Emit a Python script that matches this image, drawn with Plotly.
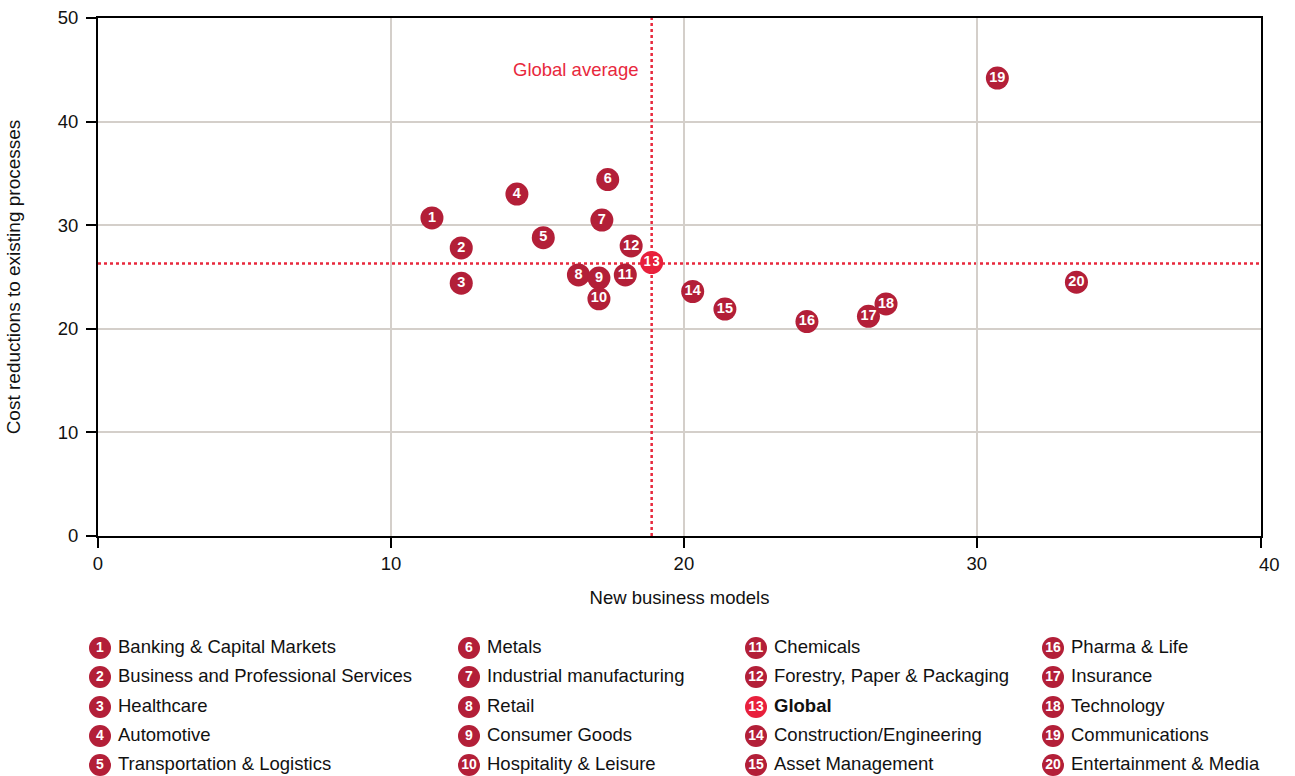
import plotly.graph_objects as go

# ---------------- data ----------------
NUMBERS = list(range(1, 21))
INDUSTRIES = [
    "Banking & Capital Markets", "Business and Professional Services", "Healthcare",
    "Automotive", "Transportation & Logistics", "Metals", "Industrial manufacturing",
    "Retail", "Consumer Goods", "Hospitality & Leisure", "Chemicals",
    "Forestry, Paper & Packaging", "Global", "Construction/Engineering",
    "Asset Management", "Pharma & Life", "Insurance", "Technology",
    "Communications", "Entertainment & Media",
]
NEW_BUSINESS_MODELS = [11.4, 12.4, 12.4, 14.3, 15.2, 17.4, 17.2, 16.4, 17.1, 17.1,
                       18.0, 18.2, 18.9, 20.3, 21.4, 24.2, 26.3, 26.9, 30.7, 33.4]
COST_REDUCTIONS = [30.7, 27.8, 24.4, 33.0, 28.8, 34.4, 30.5, 25.2, 24.9, 22.9,
                   25.2, 28.0, 26.4, 23.6, 21.9, 20.7, 21.2, 22.4, 44.2, 24.5]
GLOBAL_NAME = "Global"
GLOBAL_AVG_X = 18.9
GLOBAL_AVG_Y = 26.3
X_TICKS = [0, 10, 20, 30]
X_LAST_TICK = 40
Y_TICKS = [0, 10, 20, 30, 40, 50]

# ---------------- styles ----------------
FONT = "Liberation Sans, Arial, Helvetica, sans-serif"
DARK_RED = "#b31f38"
BRIGHT_RED = "#e8203c"
LINE_RED = "#e8283c"
GRID = "#d4cfca"
TXT = "#111111"
FS = 18.5

W, H = 1295, 776
ML, MR, MT, MB = 98, 34, 18, 0
PW, PH = W - ML - MR, H - MT - MB
MAIN_BOTTOM_PX = 536
LEGEND_TOP_PX = 630
LEGEND_COL_X = [100, 469, 756, 1053]
LEGEND_ROW_Y = [648, 677, 707, 736, 765]
X_RANGE_MAX = 39.7

colors = [BRIGHT_RED if n == GLOBAL_NAME else DARK_RED for n in INDUSTRIES]

fig = go.Figure()

# main scatter
fig.add_trace(go.Scatter(
    x=NEW_BUSINESS_MODELS, y=COST_REDUCTIONS,
    mode="markers+text",
    text=[f"<b>{n}</b>" for n in NUMBERS],
    textposition="middle center",
    textfont=dict(family=FONT, size=14.5, color="white"),
    marker=dict(size=23, color=colors, line=dict(width=0)),
    hovertext=INDUSTRIES, hoverinfo="text+x+y",
    showlegend=False, cliponaxis=False,
    xaxis="x", yaxis="y",
))

# custom legend (numbered circles + labels)
leg_x, leg_y, leg_lab = [], [], []
for i, name in enumerate(INDUSTRIES):
    col, row = divmod(i, 5)
    leg_x.append(LEGEND_COL_X[col])
    leg_y.append(LEGEND_ROW_Y[row])
    leg_lab.append(f"<b>{name}</b>" if name == GLOBAL_NAME else name)

fig.add_trace(go.Scatter(
    x=leg_x, y=leg_y, mode="markers+text",
    text=[f"<b>{n}</b>" for n in NUMBERS], textposition="middle center",
    textfont=dict(family=FONT, size=14, color="white"),
    marker=dict(size=22, color=colors, line=dict(width=0)),
    showlegend=False, hoverinfo="skip", cliponaxis=False,
    xaxis="x2", yaxis="y2",
))
fig.add_trace(go.Scatter(
    x=[x + 18 for x in leg_x], y=leg_y, mode="text",
    text=leg_lab, textposition="middle right",
    textfont=dict(family=FONT, size=FS, color=TXT),
    showlegend=False, hoverinfo="skip", cliponaxis=False,
    xaxis="x2", yaxis="y2",
))

# global average lines
fig.add_shape(type="line", xref="x", yref="paper", x0=GLOBAL_AVG_X, x1=GLOBAL_AVG_X,
              y0=(H - MAIN_BOTTOM_PX) / PH, y1=1,
              line=dict(color=LINE_RED, width=2.5, dash="dot"), layer="above")
fig.add_shape(type="line", xref="paper", yref="y", x0=0, x1=1,
              y0=GLOBAL_AVG_Y, y1=GLOBAL_AVG_Y,
              line=dict(color=LINE_RED, width=2.5, dash="dot"), layer="below")
fig.add_annotation(x=GLOBAL_AVG_X, y=45, xref="x", yref="y", text="Global average",
                   showarrow=False, xanchor="right", yanchor="middle", xshift=-12,
                   font=dict(family=FONT, size=FS, color=LINE_RED))

# the "40" tick label sits just past the frame edge
fig.add_annotation(x=X_LAST_TICK / X_RANGE_MAX, y=0, xref="x domain", yref="y domain",
                   text=str(X_LAST_TICK),
                   showarrow=False, xanchor="center", yanchor="top", yshift=-16,
                   font=dict(family=FONT, size=FS, color=TXT))

axis_common = dict(
    showline=True, linecolor="black", linewidth=2, mirror=True,
    ticks="outside", ticklen=10, tickwidth=2, tickcolor="black",
    showgrid=True, gridcolor=GRID, gridwidth=2, zeroline=False,
    tickfont=dict(family=FONT, size=FS, color=TXT),
    automargin=False,
)

main_bottom = (H - MAIN_BOTTOM_PX) / PH
legend_top = (H - LEGEND_TOP_PX) / PH

fig.update_layout(
    width=W, height=H,
    margin=dict(l=ML, r=MR, t=MT, b=MB),
    paper_bgcolor="white", plot_bgcolor="white",
    font=dict(family=FONT, color=TXT),
    xaxis=dict(
        range=[0, X_RANGE_MAX], domain=[0, 1], anchor="y",
        tickvals=X_TICKS + [X_RANGE_MAX], ticktext=[str(t) for t in X_TICKS] + [""],
        title=dict(text="New business models", font=dict(family=FONT, size=FS), standoff=18),
        **axis_common,
    ),
    yaxis=dict(
        range=[0, 50], domain=[main_bottom, 1], anchor="x",
        tickvals=Y_TICKS, ticklabelstandoff=4,
        title=dict(text="Cost reductions to existing processes", font=dict(family=FONT, size=19), standoff=32),
        **axis_common,
    ),
    xaxis2=dict(range=[ML, W - MR], domain=[0, 1], anchor="y2", visible=False, fixedrange=True),
    yaxis2=dict(range=[H, LEGEND_TOP_PX], domain=[0, legend_top], anchor="x2", visible=False, fixedrange=True),
)

fig.write_html("out.html", config={"displayModeBar": False},
               post_script="document.body.style.margin='0px';")
